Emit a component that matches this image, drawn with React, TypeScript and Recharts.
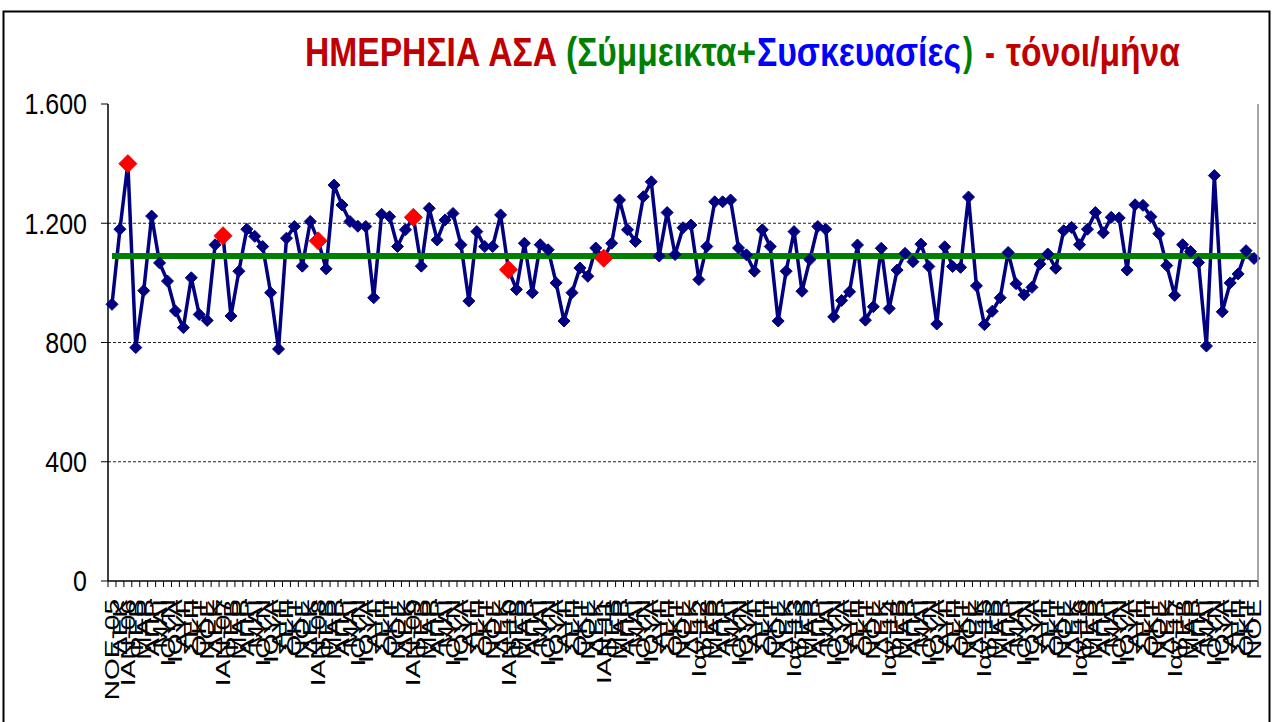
import React from 'react';
import { LineChart, Line, XAxis, YAxis, ReferenceLine } from 'recharts';

// ---- data ----
const MONTHS = ['ΙΑΝ', 'ΦΕΒ', 'ΜΑΡ', 'ΑΠΡ', 'ΜΑΪ', 'ΙΟΥΝ', 'ΙΟΥΛ', 'ΑΥΓ', 'ΣΕΠ', 'ΟΚΤ', 'ΝΟΕ', 'ΔΕΚ'];
const YEARS = ['05', '06', '07', '08', '09', '10', '11', '12', '13', '14', '15', '16', '17'];

const VALUES = [
  928, 1180, 1400, 783, 974, 1224, 1067, 1006, 906, 850, 1017, 894,
  874, 1128, 1158, 889, 1039, 1180, 1156, 1122, 967, 778, 1150, 1189,
  1056, 1206, 1141, 1047, 1328, 1261, 1206, 1190, 1189, 950, 1230, 1222,
  1122, 1178, 1220, 1056, 1250, 1144, 1211, 1233, 1128, 939, 1172, 1122,
  1122, 1228, 1044, 978, 1133, 967, 1128, 1111, 1000, 872, 967, 1050,
  1022, 1117, 1083, 1133, 1278, 1178, 1139, 1289, 1339, 1090, 1236, 1095,
  1185, 1194, 1011, 1122, 1272, 1272, 1278, 1117, 1094, 1039, 1178, 1122,
  872, 1039, 1172, 972, 1078, 1189, 1180, 886, 941, 970, 1127, 875,
  920, 1116, 914, 1043, 1099, 1071, 1130, 1055, 862, 1121, 1055, 1052,
  1288, 990, 860, 905, 950, 1102, 997, 960, 985, 1063, 1097, 1049,
  1175, 1186, 1128, 1180, 1236, 1168, 1220, 1218, 1043, 1262, 1260, 1222,
  1165, 1058, 958, 1128, 1105, 1068, 788, 1360, 903, 1000, 1030, 1108,
  1082,
];

// highlighted (red) months: January 2006..2011
const HIGHLIGHT_INDEX = [2, 14, 26, 38, 50, 62];
const AVERAGE = 1090;
const Y_TICKS = [0, 400, 800, 1200, 1600];
const GRID_VALUES = [400, 800, 1200];

// categories: Nov-05 .. Nov-17
const CATEGORIES: string[] = VALUES.map((_, i) => {
  const m = (10 + i) % 12;
  const y = YEARS[Math.floor((10 + i) / 12)];
  if (i === 0) return `${MONTHS[m]}-${y}`;
  if (m === 0) return (Number(y) >= 12 ? 'Ιαν' : 'ΙΑΝ') + '-' + y;
  return MONTHS[m];
});

const DATA = VALUES.map((v, i) => ({
  cat: CATEGORIES[i],
  v,
  avg: AVERAGE,
  r: HIGHLIGHT_INDEX.includes(i) ? v : null,
}));

// ---- styles ----
const NAVY = '#000080';
const GREEN = '#008000';
const DARKRED = '#c00000';
const HALF_STEP = 3.97;
const FONT = "'Liberation Sans', Arial, sans-serif";

const fmt = (v: number) =>
  v >= 1000 ? `${Math.floor(v / 1000)}.${String(v % 1000).padStart(3, '0')}` : String(v);

const Diamond = (size: number, color: string) => (props: any) => {
  const { cx, cy, index, value } = props;
  const val = Array.isArray(value) ? value[1] : value;
  if (cx == null || cy == null || val == null) return <g key={`d-${index}`} />;
  return (
    <path
      key={`d-${index}`}
      d={`M${cx},${cy - size} L${cx + size},${cy} L${cx},${cy + size} L${cx - size},${cy} Z`}
      fill={color}
      stroke={color}
      strokeWidth={1}
    />
  );
};

const XTick = (props: any) => {
  const { x, y, payload, index } = props;
  const last = index === VALUES.length - 1;
  return (
    <g>
      <line x1={x - HALF_STEP} x2={x - HALF_STEP} y1={y} y2={y + 6} stroke="#000" strokeWidth={1} />
      {last && <line x1={x + HALF_STEP} x2={x + HALF_STEP} y1={y} y2={y + 6} stroke="#000" strokeWidth={1} />}
      <text
        transform={`translate(${x + 7},${y + 18}) rotate(-90) scale(1.4,1)`}
        textAnchor="end"
        fontSize={20}
        fontFamily={FONT}
        fill="#000"
      >
        {payload.value}
      </text>
    </g>
  );
};

const YTick = (props: any) => {
  const { x, y, payload } = props;
  return (
    <text
      transform={`translate(${x - 12},${y}) scale(1,1.15)`}
      textAnchor="end"
      dy="0.36em"
      fontSize={25}
      fontFamily={FONT}
      fill="#000"
    >
      {fmt(payload.value)}
    </text>
  );
};

const TITLE_PARTS = [
  { text: 'ΗΜΕΡΗΣΙΑ ΑΣΑ', color: DARKRED, x: 305, w: 252 },
  { text: '(Σύμμεικτα+', color: GREEN, x: 566, w: 190 },
  { text: 'Συσκευασίες', color: '#0000ff', x: 757, w: 204 },
  { text: ')', color: GREEN, x: 963, w: 10 },
  { text: '-', color: DARKRED, x: 985, w: 10 },
  { text: 'τόνοι/μήνα', color: DARKRED, x: 1006, w: 174 },
];

export default function App() {
  return (
    <div style={{ position: 'absolute', left: 0, top: 0, width: 1274, height: 722, overflow: 'hidden', background: '#fff' }}>
      <LineChart
        width={1274}
        height={722}
        data={DATA}
        margin={{ top: 104, right: 16, bottom: 0, left: 8 }}
      >
        {GRID_VALUES.map((g) => (
          <ReferenceLine key={g} y={g} stroke="#222" strokeDasharray="3 2" strokeWidth={1} />
        ))}
        <XAxis
          dataKey="cat"
          interval={0}
          height={141}
          padding={{ left: 4, right: 4 }}
          tickLine={false}
          tickSize={0}
          tickMargin={0}
          axisLine={{ stroke: '#000', strokeWidth: 1.5 }}
          tick={<XTick />}
        />
        <YAxis
          width={100}
          domain={[0, 1600]}
          ticks={Y_TICKS}
          interval={0}
          tickSize={7}
          tickLine={{ stroke: '#000' }}
          axisLine={{ stroke: '#000', strokeWidth: 1.5 }}
          tick={<YTick />}
        />
        <Line dataKey="v" stroke={NAVY} strokeWidth={3.5} dot={false} isAnimationActive={false} />
        <Line dataKey="avg" stroke={GREEN} strokeWidth={6} dot={false} isAnimationActive={false} />
        <Line dataKey="v" stroke="none" dot={Diamond(6, NAVY)} isAnimationActive={false} />
        <Line dataKey="r" stroke="none" dot={Diamond(9, '#ff0000')} isAnimationActive={false} connectNulls={false} />
      </LineChart>
      <svg width={1274} height={722} style={{ position: 'absolute', left: 0, top: 0, pointerEvents: 'none' }}>
        <rect x={3.5} y={11.5} width={1266} height={730} fill="none" stroke="#000" strokeWidth={2} />
        <line x1={1258} x2={1258} y1={104} y2={581} stroke="#888" strokeWidth={1.5} />
        <g transform="translate(0,66) scale(1,1.24)">
          {TITLE_PARTS.map((p) => (
            <text
              key={p.text}
              x={p.x}
              y={0}
              fontSize={33}
              fontWeight="bold"
              fontFamily={FONT}
              fill={p.color}
              textLength={p.w}
              lengthAdjust="spacingAndGlyphs"
            >
              {p.text}
            </text>
          ))}
        </g>
      </svg>
    </div>
  );
}
